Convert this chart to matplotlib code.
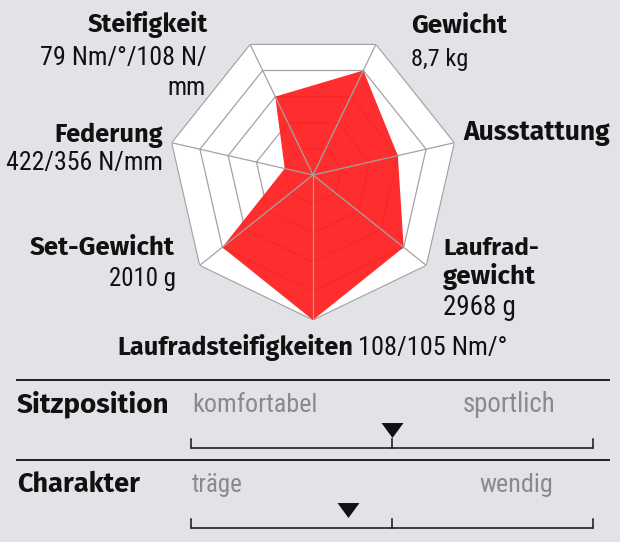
import numpy as np
import matplotlib
matplotlib.use("Agg")
import matplotlib.pyplot as plt
from matplotlib import font_manager
from matplotlib.font_manager import FontProperties

# ---------------- data ----------------
categories = ["Gewicht", "Ausstattung", "Laufrad-\ngewicht", "Laufradsteifigkeiten",
              "Set-Gewicht", "Federung", "Steifigkeit"]
details = ["8,7 kg", "", "2968 g", "108/105 Nm/°", "2010 g", "422/356 N/mm", "79 Nm/°/108 N/\nmm"]
values = [4, 3, 4, 5, 4, 1, 3]
rings = [1, 2, 3, 4, 5]

slider_names = ["Sitzposition", "Charakter"]
slider_left = ["komfortabel", "träge"]
slider_right = ["sportlich", "wendig"]
slider_values = [5.0, 3.9]   # scale 0..10
slider_max = 10

# ---------------- style ----------------
def pick(*names):
    for n in names:
        try:
            font_manager.findfont(FontProperties(family=n), fallback_to_default=False)
            return n
        except Exception:
            pass
    return "DejaVu Sans"

FAM_REG = [pick("Roboto Condensed", "Fira Sans Extra Condensed", "Fira Sans Condensed", "Roboto"), "DejaVu Sans"]
FAM_BOLD = [pick("Fira Sans", "Source Sans 3", "Open Sans"), "DejaVu Sans"]
BG = "#e2e3e7"
RED = "#ff1c1c"
GRID = "#a3a3a3"
W, H = 620, 542
FS = 20.5

fig = plt.figure(figsize=(W / 100, H / 100), dpi=100, facecolor=BG)

def fx(x):
    return x / W

def fy(y):
    return 1 - y / H

# ---------------- radar ----------------
cx, cy, R = 313, 175, 145
ax = fig.add_axes([fx(cx - R), fy(cy + R), 2 * R / W, 2 * R / H], projection="polar")
ax.set_theta_direction(-1)
ax.set_theta_offset(np.pi / 2 - np.pi / len(categories))
ax.set_ylim(0, rings[-1])
ax.axis("off")

n = len(categories)
theta = np.arange(n) * 2 * np.pi / n
theta_c = np.append(theta, theta[0])

ax.fill(theta_c, [rings[-1]] * (n + 1), color="white", zorder=1)
for r in rings:
    ax.plot(theta_c, [r] * (n + 1), color=GRID, lw=0.9, zorder=2)
vals_c = np.append(values, values[0])
ax.fill(theta_c, vals_c, color=RED, alpha=0.92, lw=0, zorder=3)
for t in theta:
    ax.plot([t, t], [0, rings[-1]], color=GRID, lw=0.9, zorder=4)

# ---------------- texts (with target extents from layout) ----------------
texts = []   # (Text, target_left, target_right)

def put(txt, x0, x1, y, ha, bold, color="#111111"):
    x = x0 if ha == "left" else x1
    t = fig.text(fx(x), fy(y), txt, ha=ha, va="baseline",
                 family=FAM_BOLD if bold else FAM_REG, fontsize=FS,
                 fontweight="bold" if bold else "normal", color=color)
    texts.append((t, x0, x1))

# layout per category: list of (x0, x1, baseline, ha) for each text line
layout = [
    [(411, 507, 33, "left"), (411, 468, 66, "left")],
    [(463, 610, 140, "left")],
    [(443, 539, 255, "left"), (443, 536, 284, "left"), (443, 516, 315, "left")],
    [(117, 353, 355, "left"), (358, 508, 355, "left")],
    [(30, 175, 255, "right"), (109, 176, 286, "right")],
    [(55, 163, 142, "right"), (7, 163, 170, "right")],
    [(88, 208, 32, "right"), (40, 207, 65, "right"), (168, 206, 95, "right")],
]

for cat, det, lay in zip(categories, details, layout):
    lines = [(l, True) for l in cat.split("\n")]
    if det:
        lines += [(l, False) for l in det.split("\n")]
    for (l, b), (x0, x1, y, ha) in zip(lines, lay):
        put(l, x0, x1, y, ha, b)

# ---------------- sliders ----------------
line_ys = [379.5, 460]
bar_ys = [447.5, 527.5]
text_ys = [412, 492]
name_ext = [(17, 170), (17, 140)]
left_ext = [(192, 318), (192, 243)]
right_ext = [(462, 555), (479, 553)]

overlay = fig.add_axes([0, 0, 1, 1])
overlay.set_xlim(0, W)
overlay.set_ylim(H, 0)
overlay.axis("off")
overlay.patch.set_alpha(0)

for i, name in enumerate(slider_names):
    overlay.plot([15.5, 610], [line_ys[i], line_ys[i]], color="#111111", lw=1.3,
                 solid_capstyle="butt")
    put(name, *name_ext[i], text_ys[i], "left", True)
    put(slider_left[i], *left_ext[i], text_ys[i], "left", False, color="#8a8a8a")
    put(slider_right[i], *right_ext[i], text_ys[i], "right", False, color="#8a8a8a")

    x0, x1 = 191, 593
    by = bar_ys[i]
    sax = fig.add_axes([fx(x0), fy(by + 5), (x1 - x0) / W, 40 / H])
    sax.set_xlim(0, slider_max)
    sax.set_ylim(-5, 35)
    sax.axis("off")
    sax.plot([0, slider_max], [0, 0], color="#111111", lw=1.1, solid_capstyle="butt", clip_on=False)
    for xt in [0, slider_max / 2, slider_max]:
        sax.plot([xt, xt], [0, 9], color="#111111", lw=1.1, clip_on=False)
    tri = [(-11, 7.5), (11, 7.5), (0, -7.5)]
    sax.plot([slider_values[i]], [17.5], marker=tri, markersize=15.8,
             color="#111111", markeredgewidth=0, clip_on=False)

# fit text widths to the reference extents
for _ in range(2):
    fig.canvas.draw()
    for t, x0, x1 in texts:
        w = t.get_window_extent().width
        if w > 0:
            t.set_fontsize(t.get_fontsize() * (x1 - x0) / w)

fig.savefig("out.png", dpi=100, facecolor=BG)
